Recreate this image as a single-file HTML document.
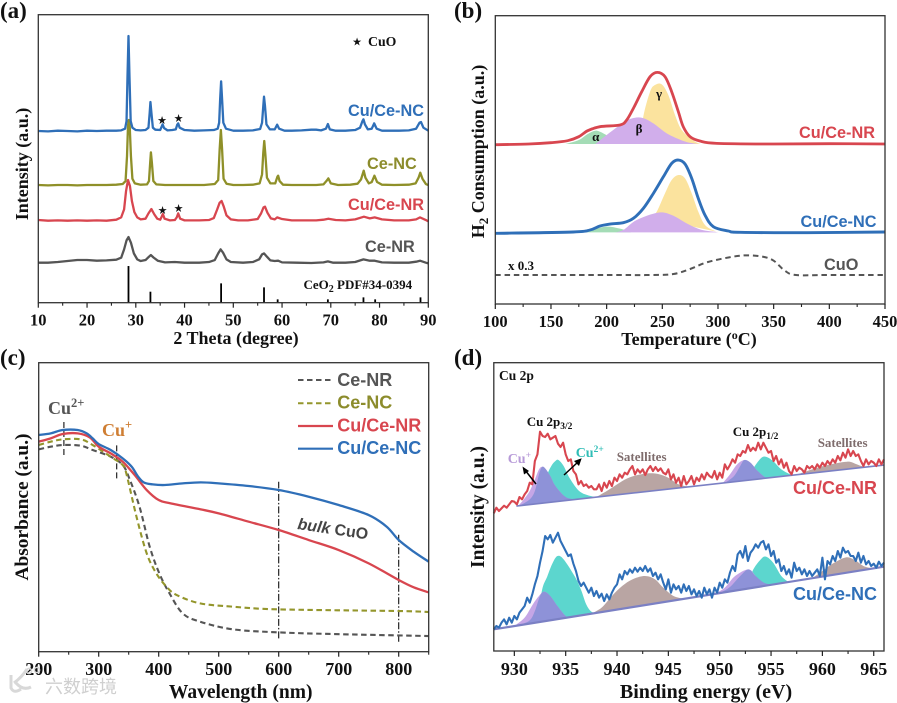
<!DOCTYPE html>
<html lang="en">
<head>
<meta charset="utf-8">
<title>Characterisation of Cu/CeO2 catalysts</title>
<style>
html,body{margin:0;padding:0;background:#fff;width:897px;height:703px;overflow:hidden}
svg{display:block;filter:blur(0.3px)}
text{font-family:"Liberation Serif","Noto Sans CJK SC",serif;font-weight:bold;fill:#111}
.sans{font-family:"Liberation Sans","Noto Sans CJK SC",sans-serif}
.tl{font-size:16.5px;text-anchor:middle}
.tb{font-size:18px;text-anchor:middle}
.letter{font-size:23px}
</style>
</head>
<body>
<svg id="fig" xmlns="http://www.w3.org/2000/svg" width="897" height="703" viewBox="0 0 897 703">
  <rect width="897" height="703" fill="#fff"/>
  <g id="layerA"></g>
  <g id="layerB"></g>
  <g id="layerC"></g>
  <g id="layerD"></g>
  <g id="axes"></g>

  <!-- panel a -->
  <text class="letter" x="0" y="18">(a)</text>
  <text x="28" y="164" transform="rotate(-90 28 164)" text-anchor="middle" font-size="18">Intensity (a.u.)</text>
  <text x="236" y="344" text-anchor="middle" font-size="18">2 Theta (degree)</text>
  <text class="sans" x="352" y="45.5" text-anchor="middle" font-size="11" style="font-family:'DejaVu Sans',sans-serif" fill="#111" transform="translate(5 0)">★</text>
  <text x="368" y="46" font-size="13.8">CuO</text>
  <text x="162" y="124" text-anchor="middle" font-size="11" style="font-family:'DejaVu Sans',sans-serif">★</text>
  <text x="178.5" y="122" text-anchor="middle" font-size="11" style="font-family:'DejaVu Sans',sans-serif">★</text>
  <text x="162.5" y="214" text-anchor="middle" font-size="11" style="font-family:'DejaVu Sans',sans-serif">★</text>
  <text x="178.5" y="212" text-anchor="middle" font-size="11" style="font-family:'DejaVu Sans',sans-serif">★</text>
  <text class="sans" x="348" y="116" font-size="16.3" style="fill:#2f6fb8">Cu/Ce-NC</text>
  <text class="sans" x="367" y="169" font-size="16.3" style="fill:#8c8c2c">Ce-NC</text>
  <text class="sans" x="348" y="210" font-size="16.3" style="fill:#d8464f">Cu/Ce-NR</text>
  <text class="sans" x="365" y="252" font-size="16.3" style="fill:#555">Ce-NR</text>
  <text x="303.5" y="289" font-size="13">CeO<tspan font-size="10" dy="3">2</tspan><tspan dy="-3"> PDF#34-0394</tspan></text>

  <!-- panel b -->
  <text class="letter" x="454" y="18">(b)</text>
  <text x="484" y="151.5" transform="rotate(-90 484 151.5)" text-anchor="middle" font-size="18">H<tspan font-size="13" dy="4">2</tspan><tspan dy="-4"> Consumption (a.u.)</tspan></text>
  <text x="689" y="345" text-anchor="middle" font-size="18">Temperature (<tspan font-size="12" dy="-6">o</tspan><tspan dy="6">C)</tspan></text>
  <text x="595.7" y="141" text-anchor="middle" font-size="13">α</text>
  <text x="639" y="133" text-anchor="middle" font-size="13">β</text>
  <text x="659" y="98" text-anchor="middle" font-size="13">γ</text>
  <text class="sans" x="799" y="138" font-size="16.3" style="fill:#d8464f">Cu/Ce-NR</text>
  <text class="sans" x="800.5" y="227" font-size="16.3" style="fill:#2f6fb8">Cu/Ce-NC</text>
  <text class="sans" x="824" y="270" font-size="16.3" style="fill:#555">CuO</text>
  <text x="508" y="270" font-size="13">x 0.3</text>

  <!-- panel c -->
  <text class="letter" x="0" y="365">(c)</text>
  <text x="28" y="507" transform="rotate(-90 28 507)" text-anchor="middle" font-size="19.4">Absorbance (a.u.)</text>
  <text x="240.7" y="698" text-anchor="middle" font-size="19.5">Wavelength (nm)</text>
  <line x1="298" x2="333" y1="380" y2="380" stroke="#555" stroke-width="2" stroke-dasharray="5.5 3.5"/>
  <line x1="298" x2="333" y1="403.3" y2="403.3" stroke="#94962c" stroke-width="2" stroke-dasharray="5.5 3.5"/>
  <line x1="298" x2="333" y1="426" y2="426" stroke="#d8464f" stroke-width="2.2"/>
  <line x1="298" x2="333" y1="448.7" y2="448.7" stroke="#2f6fb8" stroke-width="2.2"/>
  <text class="sans" x="337.3" y="386" font-size="18" style="fill:#555">Ce-NR</text>
  <text class="sans" x="337.3" y="408.7" font-size="18" style="fill:#8c8c2c">Ce-NC</text>
  <text class="sans" x="337.3" y="431.5" font-size="18" style="fill:#d8464f">Cu/Ce-NR</text>
  <text class="sans" x="337.3" y="454" font-size="18" style="fill:#2f6fb8">Cu/Ce-NC</text>
  <text x="48" y="414" font-size="18" style="fill:#555">Cu<tspan font-size="12.5" dy="-7">2+</tspan></text>
  <text x="102" y="436" font-size="18" style="fill:#cf7e33">Cu<tspan font-size="12.5" dy="-7">+</tspan></text>
  <text class="sans" x="297" y="529" font-size="16" transform="rotate(8.4 297 529)" style="fill:#444"><tspan font-style="italic">bulk</tspan> CuO</text>
  <g>
    <path d="M11 675 L11 688 Q14 694 21 689 M14 683 Q22 677 27 669 M16 683 Q23 691 31 687" fill="none" stroke="#d8d8d8" stroke-width="3"/>
    <circle cx="29" cy="671" r="2.6" fill="none" stroke="#d8d8d8" stroke-width="1.5"/>
    <circle cx="37" cy="670" r="2.6" fill="none" stroke="#d8d8d8" stroke-width="1.5"/>
    <text x="45" y="693" font-size="18" style="fill:#cfcfcf;font-family:'Noto Sans CJK SC',sans-serif;font-weight:normal">六数跨境</text>
  </g>

  <!-- panel d -->
  <text class="letter" x="454" y="365">(d)</text>
  <text x="484" y="507" transform="rotate(-90 484 507)" text-anchor="middle" font-size="19.5">Intensity (a.u.)</text>
  <text x="706" y="698" text-anchor="middle" font-size="20">Binding energy (eV)</text>
  <text x="499" y="380" font-size="13.5">Cu 2p</text>
  <text x="526.7" y="426" font-size="13">Cu 2p<tspan font-size="9.5" dy="3">3/2</tspan></text>
  <text x="732.7" y="436" font-size="13">Cu 2p<tspan font-size="9.5" dy="3">1/2</tspan></text>
  <text x="507.7" y="463" font-size="14" style="fill:#b79ad8">Cu<tspan font-size="9.5" dy="-5">+</tspan></text>
  <text x="575.7" y="457" font-size="14" style="fill:#2fbdb6">Cu<tspan font-size="9.5" dy="-5">2+</tspan></text>
  <text x="616.7" y="461" font-size="13" style="fill:#7f6d6d">Satellites</text>
  <text x="817.7" y="447" font-size="13" style="fill:#7f6d6d">Satellites</text>
  <text class="sans" x="793" y="494" font-size="18" style="fill:#d8464f">Cu/Ce-NR</text>
  <text class="sans" x="793" y="600" font-size="18" style="fill:#2f6fb8">Cu/Ce-NC</text>
  <g id="arrows">
    <line x1="536" y1="484" x2="525" y2="470" stroke="#000" stroke-width="1.5"/>
    <polygon points="522.5,466.5 529,471 524,474.5" fill="#000"/>
    <line x1="564" y1="475" x2="578" y2="462" stroke="#000" stroke-width="1.5"/>
    <polygon points="581.7,458.3 579,466 574,461" fill="#000"/>
  </g>
</svg>

<script>
/* ---------- Panel (a): XRD ---------- */
const xrdBlueTheta = [10,12,14,16,18,20,22,24,26,27,27.8,28.1,28.3,28.5,28.7,28.95,29.3,30,31,32,32.6,32.85,33,33.2,33.5,34,35,35.3,35.5,35.8,36.5,37.5,38.2,38.5,38.7,39,40,42,44,46,46.8,47.1,47.3,47.5,47.7,47.95,48.5,50,52,54,55.5,55.9,56.15,56.3,56.5,56.8,57.5,58.5,59,59.4,60.5,62,64,66,67,68,69,69.4,69.8,71,73,75,76,76.5,76.7,77,77.6,78.4,78.9,79.4,80.5,82,84,86,87.5,88.2,88.5,89,90];
const xrdBlueCounts = [515,514,516,515,514,516,515,516,516,517,522,545,680,800,680,545,525,518,517,518,525,570,602,570,525,519,518,528,535,524,517,518,520,534,538,525,518,516,517,518,522,540,610,664,610,540,522,516,516,517,521,540,590,618,590,535,520,520,534,522,516,516,517,519,519,517,522,536,520,516,516,518,525,545,550,535,520,522,538,522,516,516,516,517,522,540,542,525,516];
const xrdOliveTheta = [10,12,14,16,18,20,22,24,26,27.3,27.9,28.2,28.4,28.55,28.75,29,29.3,29.8,31,32.3,32.7,32.95,33.1,33.3,33.6,34.2,36,38,40,42,44,46.2,46.9,47.2,47.45,47.7,48,48.6,50,52,54,55.4,55.9,56.15,56.35,56.6,56.9,57.6,58.6,59.05,59.2,59.5,60.2,62,65,67,68.5,69.1,69.5,70,71.5,74,75.5,76.2,76.75,77.1,77.8,78.4,78.95,79.5,80.5,83,86,87.4,88,88.35,88.8,89.5,90];
const xrdOliveCounts = [353,352,353,353,352,353,353,353,354,356,365,440,530,548,530,440,372,358,354,355,365,420,451,420,365,355,353,353,353,353,353,356,368,460,518,460,372,357,353,353,354,358,385,450,485,440,375,358,358,378,381,365,354,353,353,353,355,365,373,358,353,354,357,370,396,375,358,362,381,362,354,353,354,358,375,390,372,356,353];
const xrdRedTheta = [10,12,14,16,18,20,22,24,26,27,27.6,28,28.4,28.8,29.2,29.7,30.3,31,32,32.6,33.2,33.8,34.4,35,35.3,35.55,35.9,37,38,38.4,38.7,39.1,40,43,45,46,46.7,47.2,47.6,48,48.6,49.5,51,53,55,55.7,56.2,56.5,57,57.7,58.5,59,60,62,65,67,68.5,69.5,71,73,75,76.8,78,79,80.5,83,86,87.5,88.3,89.5,90];
const xrdRedCounts = [248,246,247,246,247,246,247,246,249,256,280,335,368,350,305,272,256,250,252,268,281,265,252,249,258,266,252,247,248,256,268,252,247,247,248,254,280,300,305,290,262,250,247,247,251,268,286,288,270,253,250,256,251,247,247,247,249,252,248,247,250,258,253,256,250,247,247,250,256,248,244];
const xrdGreyTheta = [10,12,14,16,18,20,22,24,26,27,27.6,28.1,28.5,29,29.6,30.3,31,32,32.7,33.1,33.6,34.5,36,38,40,43,45,46.2,46.9,47.4,47.9,48.6,49.5,52,54,55.3,55.9,56.3,56.9,57.6,58.5,59.2,60,63,66,68.5,69.4,70.5,73,75,76.7,78,79,80.5,83,86,87.5,88.3,89.5,90];
const xrdGreyCounts = [120,120,122,125,128,128,126,127,129,135,160,187,197,180,148,130,125,128,138,143,136,126,121,122,120,120,122,128,148,160,150,130,122,120,122,130,145,148,138,127,125,126,121,120,119,121,124,120,120,122,130,126,126,121,120,120,123,126,120,118];
const refTheta = [28.5,33,47.5,56.3,59.1,69.4,76.7,79.1,88.4];
const refIntensity = [110,33,58,46,10,10,16,10,16];
const ticksA = [10,20,30,40,50,60,70,80,90];
const minorTicksA = [15,25,35,45,55,65,75,85];

/* ---------- Panel (b): H2-TPR ---------- */
const tprNrTemp = [100,130,150,165,175,183,194,212,218,224,231.5,239,245.5,252.4,258.4,264.4,268.8,274.9,283.8,298.9,350,400,450];
const tprNrSignal = [478,480,484,490,502,520,532,537,552,587,637,682,695,682,637,577,532,502,489,482,480,481,480];
const tprNcTemp = [100,170,185,194,203,215,224,233,242,251,258.4,264.4,270.4,276.4,282.3,288.3,295.8,309.3,320,380,450];
const tprNcSignal = [212,216,222,234,240,244,257,287,332,382,422,432,420,377,317,267,232,219,215,214,216];
const tprCuoTemp = [100,200,240,260,275,290,310,325,340,350,360,370,400,450];
const tprCuoSignal = [87,87,87,90,105,125,140,146,142,130,100,87,87,87];
const alphaNrTemp = [163,175,183,190,197,206,216];
const alphaNrSignal = [480,492,510,520,512,494,480];
const betaNrTemp = [190,200,212,221,231.5,242,254,269,277.8,283];
const betaNrSignal = [480,507,537,555,559,542,512,489,482,480];
const gammaNrTemp = [230,232.9,239,243.4,249.5,255.4,261.4,267.4,277.8,284];
const gammaNrSignal = [480,562,637,657,659,627,567,522,491,480];
const alphaNcTemp = [172,188,200,212,222];
const alphaNcSignal = [215,224,232,226,215];
const betaNcTemp = [208,215,227,246.4,258.4,271.9,283.8,295.8,300];
const betaNcSignal = [215,222,252,274,267,242,224,217,215];
const gammaNcTemp = [240,245,252.4,258.4,264.4,270.4,276.4,282.3,288.3,297.3,302];
const gammaNcSignal = [258,277,332,372,387,377,332,277,237,219,215];
const ticksB = [100,150,200,250,300,350,400,450];
const minorTicksB = [125,175,225,275,325,375,425];

/* ---------- Panel (c): UV-Vis ---------- */
const uvNcBlueNm = [200,220,240,265,280,290,300,320,340,355,365,375,390,410,440,470,500,550,600,650,700,750,780,800,825,850];
const uvNcBlueAbs = [650,655,665,665,655,640,623,605,580,555,527,508,502,500,505,508,505,497,485,465,440,410,375,335,300,270];
const uvNrRedNm = [200,220,240,265,285,300,320,340,360,380,400,420,470,500,550,600,650,700,750,800,825,850];
const uvNrRedAbs = [630,640,653,655,643,615,595,570,530,485,455,445,427,415,390,365,335,305,265,215,193,178];
const uvCeNcNm = [200,220,240,270,290,320,340,346,363,380,396,413,430,469,524,600,800,850];
const uvCeNcAbs = [620,630,637,637,620,585,560,535,405,295,235,195,170,145,135,127,122,119];
const uvCeNrNm = [200,220,240,270,290,320,340,351,368,385,401,418,440,469,524,600,690,850];
const uvCeNrAbs = [607,615,620,618,605,585,560,520,435,315,235,175,115,90,67,58,53,47];
const ticksC = [200,300,400,500,600,700,800];
const minorTicksC = [250,350,450,550,650,750,850];
const guidesDashDotNm = [600,800];
const guidesDashDotFrom = [40,30];
const guidesDashDotTo = [510,355];
const guidesDashNm = [242,330];
const guidesDashFrom = [590,520];
const guidesDashTo = [697,627];

/* ---------- Panel (d): XPS ---------- */
const xpsNrCounts = [413,430,420,428,436,430,440,450,448,440,462,455,470,480,505,500,570,590,658,645,642,652,635,640,645,622,612,625,590,570,575,540,530,500,510,495,500,490,495,485,485,500,480,505,490,510,495,520,510,530,520,535,530,545,555,530,545,535,545,528,545,555,540,552,540,548,535,530,545,515,530,505,520,495,525,500,510,525,500,520,510,530,515,535,525,520,540,515,535,520,560,545,558,575,565,590,585,600,595,618,600,610,602,625,605,625,610,595,600,570,585,560,575,550,565,540,530,555,540,550,545,535,555,548,555,545,560,550,565,555,570,560,575,565,585,572,595,580,605,585,600,585,590,570,555,575,560,570,565,555,575,560,575];
const xpsNcCounts = [65,75,70,85,95,80,100,85,105,95,115,125,135,160,145,170,200,225,265,300,345,335,348,325,340,355,330,315,300,285,290,262,240,210,195,205,190,175,190,165,180,160,172,150,170,155,175,190,200,230,215,240,230,245,235,250,238,250,240,255,238,248,225,235,215,230,205,185,215,175,200,185,195,175,200,180,195,170,185,165,180,160,190,170,185,160,190,175,205,190,215,205,235,255,240,290,300,280,315,270,295,305,320,310,325,330,305,320,285,300,265,275,240,255,230,245,220,265,240,250,230,245,225,240,225,235,245,225,280,215,270,260,285,270,300,280,310,295,300,285,285,270,295,265,285,260,270,255,262,250,268,255,265];
const xpsFirstEnergy = 928;
const xpsEnergyStep = 0.25;
const bgNrEnergy = [930.2,966];
const bgNrCounts = [435,558];
const bgNcEnergy = [928,966];
const bgNcCounts = [65,253];
const nrCuPlusEnergy = [930.4,931,931.5,932,932.4,932.7,933,933.5,934,935,935.5];
const nrCuPlusCounts = [436,458,480,515,545,553,548,525,495,460,453];
const nrCuPlusCoreEnergy = [930.5,931.5,932,932.4,932.7,933,933.5,934,935,936];
const nrCuPlusCoreCounts = [436,455,480,530,552,548,525,495,462,455];
const nrCu2Energy = [932.5,933.15,933.6,934,934.3,934.8,935.4,936.4,937.7,938];
const nrCu2Counts = [443,523,555,570,573,555,518,478,463,462];
const nrSat1Energy = [938,939,940,941,942,943,944,945,946,947];
const nrSat1Counts = [462,480,500,518,528,533,531,520,500,493];
const nrSat2Energy = [957.5,959,960.5,962.4,963.2,963.8,964.3];
const nrSat2Counts = [529,545,558,568,562,555,552];
const nrCuPlus2Energy = [950.3,951,951.7,952.4,953,953.7,954.5,955];
const nrCuPlus2Counts = [504,530,560,573,565,540,520,520];
const nrCuPlus2CoreEnergy = [950.6,951.4,952,952.4,953,953.7,954.5,955];
const nrCuPlus2CoreCounts = [506,525,555,573,565,540,520,520];
const nrCu22Energy = [952.5,953.2,954,954.5,955.2,956,957];
const nrCu22Counts = [511,545,578,583,570,545,528];
const ncCuPlusEnergy = [930,931,931.8,932.4,932.9,933.5,934.2,935,935.5];
const ncCuPlusCounts = [75,100,140,165,178,165,135,105,102];
const ncCuPlusCoreEnergy = [930.5,931.5,932,932.5,932.9,933.5,934.2,935,935.5];
const ncCuPlusCoreCounts = [78,92,120,165,178,165,135,105,102];
const ncCu2Energy = [932.2,932.7,933.2,933.7,934.2,934.8,935.9,936.5,937,937.5,938];
const ncCu2Counts = [86,183,223,262,285,275,223,183,140,118,115];
const ncSat1Energy = [937.5,938.5,939.5,940.5,941.5,942.7,943.7,944.5,945.5,946.5];
const ncSat1Counts = [112,130,165,195,215,225,215,190,165,157];
const ncSat2Energy = [959,960,961,962.3,963.2,964,964.8];
const ncSat2Counts = [218,240,262,281,272,255,248];
const ncCuPlus2Energy = [949.5,950.5,951.5,952.8,953.5,954,955];
const ncCuPlus2Counts = [171,190,225,245,225,205,200];
const ncCuPlus2CoreEnergy = [950,951,952,952.8,953.5,954.3,955];
const ncCuPlus2CoreCounts = [174,192,225,245,225,205,199];
const ncCu22Energy = [952.8,953.2,954,954.5,955.2,956,956.7];
const ncCu22Counts = [190,240,275,283,265,225,207];
const ticksD = [930,935,940,945,950,955,960,965];
const minorTicksD = [932.5,937.5,942.5,947.5,952.5,957.5,962.5];

/* ---------- Axis functions ---------- */
const NS = 'http://www.w3.org/2000/svg';
function scale(d0, d1, r0, r1) { return v => r0 + (v - d0) * (r1 - r0) / (d1 - d0); }
const xA = scale(10, 90, 38.3, 428.3);
const yA = scale(0, 864, 302.7, 14.7);
const xB = scale(100, 450, 495.3, 885);
const yB = scale(0, 865, 304, 15.7);
const xC = scale(200, 850, 38.7, 428.7);
const yC = scale(0, 867, 651.7, 362.7);
const xD = scale(928, 966, 493.8, 884);
const yD = scale(0, 865, 651, 362.7);

function mk(tag, parent) {
  const el = document.createElementNS(NS, tag);
  parent.appendChild(el);
  return el;
}
function linePath(xs, ys, fx, fy) {
  return xs.map((x, i) => (i ? 'L' : 'M') + fx(x).toFixed(2) + ' ' + fy(ys[i]).toFixed(2)).join('');
}
function smoothPath(xs, ys, fx, fy) {
  const p = xs.map((x, i) => [fx(x), fy(ys[i])]);
  let d = 'M' + p[0][0].toFixed(2) + ' ' + p[0][1].toFixed(2);
  for (let i = 0; i < p.length - 1; i++) {
    const a = p[Math.max(i - 1, 0)], b = p[i], c = p[i + 1], e = p[Math.min(i + 2, p.length - 1)];
    const c1x = b[0] + (c[0] - a[0]) / 6, c1y = b[1] + (c[1] - a[1]) / 6;
    const c2x = c[0] - (e[0] - b[0]) / 6, c2y = c[1] - (e[1] - b[1]) / 6;
    d += 'C' + [c1x, c1y, c2x, c2y, c[0], c[1]].map(n => n.toFixed(2)).join(' ');
  }
  return d;
}
function drawCurve(parent, name, d, color, width, dash) {
  const el = mk('path', parent);
  
  
  el.setAttribute('d', d);
  el.setAttribute('fill', 'none');
  el.setAttribute('stroke', color);
  el.setAttribute('stroke-width', width);
  el.setAttribute('stroke-linejoin', 'round');
  if (dash) el.setAttribute('stroke-dasharray', dash);
}
function drawArea(parent, name, d, color, opacity) {
  const el = mk('path', parent);
  
  
  el.setAttribute('d', d + 'Z');
  el.setAttribute('fill', color);
  if (opacity) el.setAttribute('fill-opacity', opacity);
}
function drawRule(parent, name, x1, y1, x2, y2, color, width, dash) {
  const el = mk('line', parent);
  
  
  el.setAttribute('x1', x1);
  el.setAttribute('y1', y1);
  el.setAttribute('x2', x2);
  el.setAttribute('y2', y2);
  el.setAttribute('stroke', color);
  el.setAttribute('stroke-width', width);
  if (dash) el.setAttribute('stroke-dasharray', dash);
}
function drawAxis(panel, x0, x1, yTop, yBot, fx, major, minor, labelY, cls) {
  const g = document.getElementById('axes');
  const frame = mk('rect', g);
  
  
  frame.setAttribute('x', x0);
  frame.setAttribute('y', yTop);
  frame.setAttribute('width', x1 - x0);
  frame.setAttribute('height', yBot - yTop);
  frame.setAttribute('fill', 'none');
  frame.setAttribute('stroke', '#333');
  frame.setAttribute('stroke-width', '1.3');
  major.forEach(v => {
    drawRule(g, panel + '-major-tick', fx(v), yBot, fx(v), yBot + 5, '#222', 1.2);
    const t = mk('text', g);
    
    
    t.setAttribute('class', cls);
    t.setAttribute('x', fx(v));
    t.setAttribute('y', labelY);
    t.textContent = v;
  });
  minor.forEach(v => {
    drawRule(g, panel + '-minor-tick', fx(v), yBot, fx(v), yBot + 3, '#222', 1.1);
  });
}

/* ---------- Render panel a ---------- */
const layerA = document.getElementById('layerA');
drawCurve(layerA, 'xrd-ce-nc', linePath(xrdOliveTheta, xrdOliveCounts, xA, yA), '#8f9029', 2.3);
drawCurve(layerA, 'xrd-cu-ce-nc', linePath(xrdBlueTheta, xrdBlueCounts, xA, yA), '#2f6fb8', 2.3);
drawCurve(layerA, 'xrd-ce-nr', linePath(xrdGreyTheta, xrdGreyCounts, xA, yA), '#555', 2.3);
drawCurve(layerA, 'xrd-cu-ce-nr', linePath(xrdRedTheta, xrdRedCounts, xA, yA), '#d8464f', 2.3);
refTheta.forEach((t, i) => {
  drawRule(layerA, 'ceo2-reference-stick', xA(t), yA(0), xA(t), yA(refIntensity[i]), '#000', 1.8);
});

/* ---------- Render panel b ---------- */
const layerB = document.getElementById('layerB');
drawArea(layerB, 'alpha-peak-nr', smoothPath(alphaNrTemp, alphaNrSignal, xB, yB), '#a4dcb6');
drawArea(layerB, 'gamma-peak-nr', smoothPath(gammaNrTemp, gammaNrSignal, xB, yB), '#fbe39e');
drawArea(layerB, 'beta-peak-nr', smoothPath(betaNrTemp, betaNrSignal, xB, yB), '#d1aeeb');
drawArea(layerB, 'alpha-peak-nc', smoothPath(alphaNcTemp, alphaNcSignal, xB, yB), '#a4dcb6');
drawArea(layerB, 'gamma-peak-nc', smoothPath(gammaNcTemp, gammaNcSignal, xB, yB), '#fbe39e');
drawArea(layerB, 'beta-peak-nc', smoothPath(betaNcTemp, betaNcSignal, xB, yB), '#d1aeeb');
drawCurve(layerB, 'tpr-cu-ce-nr', smoothPath(tprNrTemp, tprNrSignal, xB, yB), '#d8464f', 2.8);
drawCurve(layerB, 'tpr-cu-ce-nc', smoothPath(tprNcTemp, tprNcSignal, xB, yB), '#2f6fb8', 2.9);
drawCurve(layerB, 'tpr-cuo', smoothPath(tprCuoTemp, tprCuoSignal, xB, yB), '#555', 2, '5.5 3.8');

/* ---------- Render panel c ---------- */
const layerC = document.getElementById('layerC');
guidesDashDotNm.forEach((nm, i) => {
  drawRule(layerC, 'bulk-cuo-guide-line', xC(nm), yC(guidesDashDotFrom[i]), xC(nm), yC(guidesDashDotTo[i]), '#111', 1.1, '7 2 1.5 2');
});
guidesDashNm.forEach((nm, i) => {
  drawRule(layerC, 'cu-species-guide-line', xC(nm), yC(guidesDashFrom[i]), xC(nm), yC(guidesDashTo[i]), '#111', 1.1, '6 3');
});
drawCurve(layerC, 'uv-ce-nr', smoothPath(uvCeNrNm, uvCeNrAbs, xC, yC), '#555', 2.1, '5.5 3.5');
drawCurve(layerC, 'uv-ce-nc', smoothPath(uvCeNcNm, uvCeNcAbs, xC, yC), '#94962c', 2.1, '5.5 3.5');
drawCurve(layerC, 'uv-cu-ce-nr', smoothPath(uvNrRedNm, uvNrRedAbs, xC, yC), '#d8464f', 2.3);
drawCurve(layerC, 'uv-cu-ce-nc', smoothPath(uvNcBlueNm, uvNcBlueAbs, xC, yC), '#2f6fb8', 2.3);

/* ---------- Render panel d ---------- */
const layerD = document.getElementById('layerD');
const xpsEnergy = xpsNrCounts.map((_, i) => xpsFirstEnergy + i * xpsEnergyStep);
drawArea(layerD, 'nr-satellite-peak-left', smoothPath(nrSat1Energy, nrSat1Counts, xD, yD), '#b9a5a3');
drawArea(layerD, 'nr-satellite-peak-right', smoothPath(nrSat2Energy, nrSat2Counts, xD, yD), '#b9a5a3');
drawArea(layerD, 'nr-cu2-peak-3-2', smoothPath(nrCu2Energy, nrCu2Counts, xD, yD), '#5cd6ce');
drawArea(layerD, 'nr-cu-plus-peak-3-2', smoothPath(nrCuPlusEnergy, nrCuPlusCounts, xD, yD), '#c5a6e6');
drawArea(layerD, 'nr-cu-plus-core-3-2', smoothPath(nrCuPlusCoreEnergy, nrCuPlusCoreCounts, xD, yD), '#8e92d8');
drawArea(layerD, 'nr-cu2-peak-1-2', smoothPath(nrCu22Energy, nrCu22Counts, xD, yD), '#5cd6ce');
drawArea(layerD, 'nr-cu-plus-peak-1-2', smoothPath(nrCuPlus2Energy, nrCuPlus2Counts, xD, yD), '#c5a6e6');
drawArea(layerD, 'nr-cu-plus-core-1-2', smoothPath(nrCuPlus2CoreEnergy, nrCuPlus2CoreCounts, xD, yD), '#8e92d8');
drawArea(layerD, 'nc-satellite-peak-left', smoothPath(ncSat1Energy, ncSat1Counts, xD, yD), '#b9a5a3');
drawArea(layerD, 'nc-satellite-peak-right', smoothPath(ncSat2Energy, ncSat2Counts, xD, yD), '#b9a5a3');
drawArea(layerD, 'nc-cu2-peak-3-2', smoothPath(ncCu2Energy, ncCu2Counts, xD, yD), '#5cd6ce');
drawArea(layerD, 'nc-cu-plus-peak-3-2', smoothPath(ncCuPlusEnergy, ncCuPlusCounts, xD, yD), '#c5a6e6');
drawArea(layerD, 'nc-cu-plus-core-3-2', smoothPath(ncCuPlusCoreEnergy, ncCuPlusCoreCounts, xD, yD), '#8e92d8');
drawArea(layerD, 'nc-cu2-peak-1-2', smoothPath(ncCu22Energy, ncCu22Counts, xD, yD), '#5cd6ce');
drawArea(layerD, 'nc-cu-plus-peak-1-2', smoothPath(ncCuPlus2Energy, ncCuPlus2Counts, xD, yD), '#c5a6e6');
drawArea(layerD, 'nc-cu-plus-core-1-2', smoothPath(ncCuPlus2CoreEnergy, ncCuPlus2CoreCounts, xD, yD), '#8e92d8');
drawCurve(layerD, 'nr-background-line', linePath(bgNrEnergy, bgNrCounts, xD, yD), '#7b80c4', 1.6);
drawCurve(layerD, 'nc-background-line', linePath(bgNcEnergy, bgNcCounts, xD, yD), '#7b80c4', 2.2);
drawCurve(layerD, 'xps-cu-ce-nr', linePath(xpsEnergy, xpsNrCounts, xD, yD), '#d8464f', 2.1);
drawCurve(layerD, 'xps-cu-ce-nc', linePath(xpsEnergy, xpsNcCounts, xD, yD), '#2f6fb8', 2.1);

/* ---------- Axes ---------- */
drawAxis('panel-a', 38.3, 428.3, 14.7, 302.7, xA, ticksA, minorTicksA, 325.7, 'tl');
drawAxis('panel-b', 495.3, 885, 15.7, 304, xB, ticksB, minorTicksB, 327, 'tl');
drawAxis('panel-c', 38.7, 428.7, 362.7, 651.7, xC, ticksC, minorTicksC, 675, 'tb');
drawAxis('panel-d', 493.8, 884, 362.7, 651, xD, ticksD, minorTicksD, 675, 'tb');
</script>
</body>
</html>
